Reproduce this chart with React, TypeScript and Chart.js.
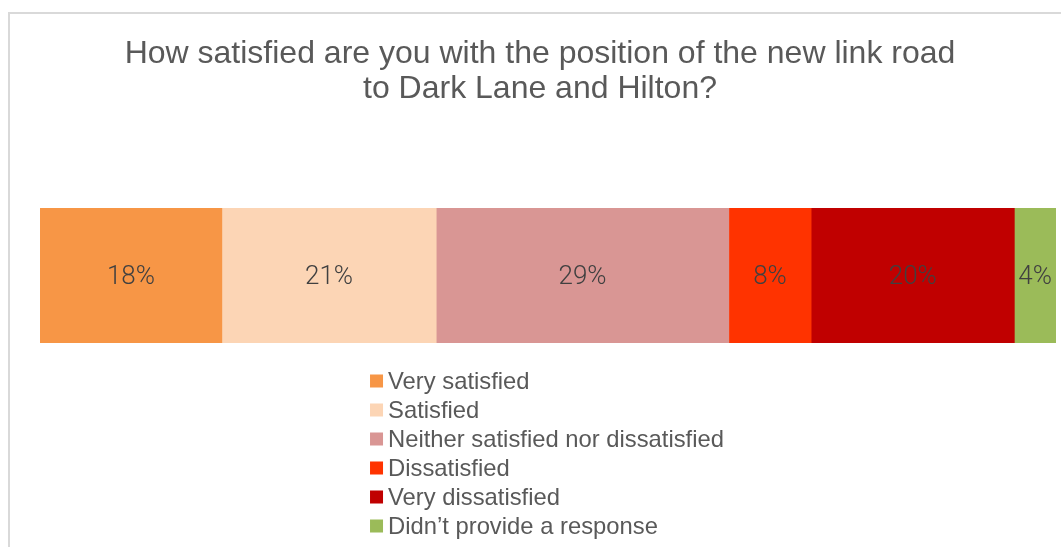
import React, { useEffect, useRef } from "react";
import { Chart, registerables } from "chart.js";

Chart.register(...registerables);

const titleLines = [
  "How satisfied are you with the position of the new link road",
  "to Dark Lane and Hilton?",
];
const categories = [
  "Very satisfied",
  "Satisfied",
  "Neither satisfied nor dissatisfied",
  "Dissatisfied",
  "Very dissatisfied",
  "Didn’t provide a response",
];
const values = [17.9, 21.1, 28.8, 8.1, 20.0, 4.1];
const valueLabels = ["18%", "21%", "29%", "8%", "20%", "4%"];
const colors = ["#F79646", "#FCD5B5", "#D99694", "#FF3300", "#C00000", "#9BBB59"];

const dataLabelPlugin = {
  id: "dataLabels",
  afterDatasetsDraw(chart: any) {
    const ctx = chart.ctx;
    ctx.save();
    ctx.font = '300 26px "Roboto"';
    ctx.fillStyle = "#404040";
    ctx.textAlign = "center";
    ctx.textBaseline = "middle";
    chart.data.datasets.forEach((ds: any, i: number) => {
      const meta = chart.getDatasetMeta(i);
      const el = meta.data[0];
      if (!el) return;
      const p = el.getCenterPoint();
      ctx.fillText(valueLabels[i], p.x, p.y + 1.5);
    });
    ctx.restore();
  },
};

const columnLegendPlugin = {
  id: "columnLegend",
  afterDraw(chart: any) {
    const ctx = chart.ctx;
    const area = chart.chartArea;
    ctx.save();
    ctx.font = '23.8px "Liberation Sans", Arial, sans-serif';
    const box = 13;
    const gap = 5;
    const step = 29;
    let maxW = 0;
    chart.data.datasets.forEach((ds: any) => {
      maxW = Math.max(maxW, ctx.measureText(ds.label).width);
    });
    const totalW = box + gap + maxW;
    const x0 = (area.left + area.right) / 2 - totalW / 2 - 1;
    const y0 = area.bottom + 38;
    ctx.textAlign = "left";
    ctx.textBaseline = "middle";
    chart.data.datasets.forEach((ds: any, i: number) => {
      const cy = y0 + i * step;
      ctx.fillStyle = ds.backgroundColor;
      ctx.fillRect(x0, cy - box / 2, box, box);
      ctx.fillStyle = "#595959";
      ctx.fillText(ds.label, x0 + box + gap, cy + 1);
    });
    ctx.restore();
  },
};

export default function App() {
  const canvasRef = useRef<HTMLCanvasElement | null>(null);

  useEffect(() => {
    const canvas = canvasRef.current;
    if (!canvas) return;
    const chart = new Chart(canvas, {
      type: "bar",
      data: {
        labels: [""],
        datasets: categories.map((c, i) => ({
          label: c,
          data: [values[i]],
          backgroundColor: colors[i],
          borderWidth: 0,
          barPercentage: 1,
          categoryPercentage: 1,
        })),
      },
      options: {
        animation: false,
        responsive: false,
        devicePixelRatio: 1,
        indexAxis: "y",
        layout: { padding: { left: 0, right: 0, top: 0, bottom: 204 } },
        scales: {
          x: { display: false, stacked: true, min: 0, max: 100 },
          y: {
            type: "category",
            stacked: true,
            display: true,
            position: "left",
            ticks: { display: false },
            grid: { display: false },
            border: { display: false },
            afterFit: (s: any) => {
              s.width = 30;
            },
          },
          yR: {
            type: "linear",
            axis: "y",
            position: "right",
            display: true,
            ticks: { display: false },
            grid: { display: false },
            border: { display: false },
            afterFit: (s: any) => {
              s.width = 14;
            },
          },
        },
        plugins: {
          legend: { display: false },
          tooltip: { enabled: false },
          title: {
            display: true,
            text: titleLines,
            color: "#595959",
            font: {
              family: '"Liberation Sans", Arial, sans-serif',
              size: 32,
              weight: "normal",
              lineHeight: 35 / 32,
            },
            padding: { top: 23, bottom: 101 },
          },
        },
      } as any,
      plugins: [dataLabelPlugin, columnLegendPlugin],
    });
    return () => chart.destroy();
  }, []);

  return (
    <div
      style={{
        position: "absolute",
        left: 8,
        top: 12,
        width: 1053,
        height: 535,
        boxSizing: "border-box",
        borderTop: "2px solid #d9d9d9",
        borderLeft: "2px solid #d9d9d9",
        overflow: "hidden",
        background: "#ffffff",
      }}
    >
      <canvas
        ref={canvasRef}
        width={1060}
        height={533}
        style={{ display: "block", width: 1060, height: 533 }}
      />
    </div>
  );
}
